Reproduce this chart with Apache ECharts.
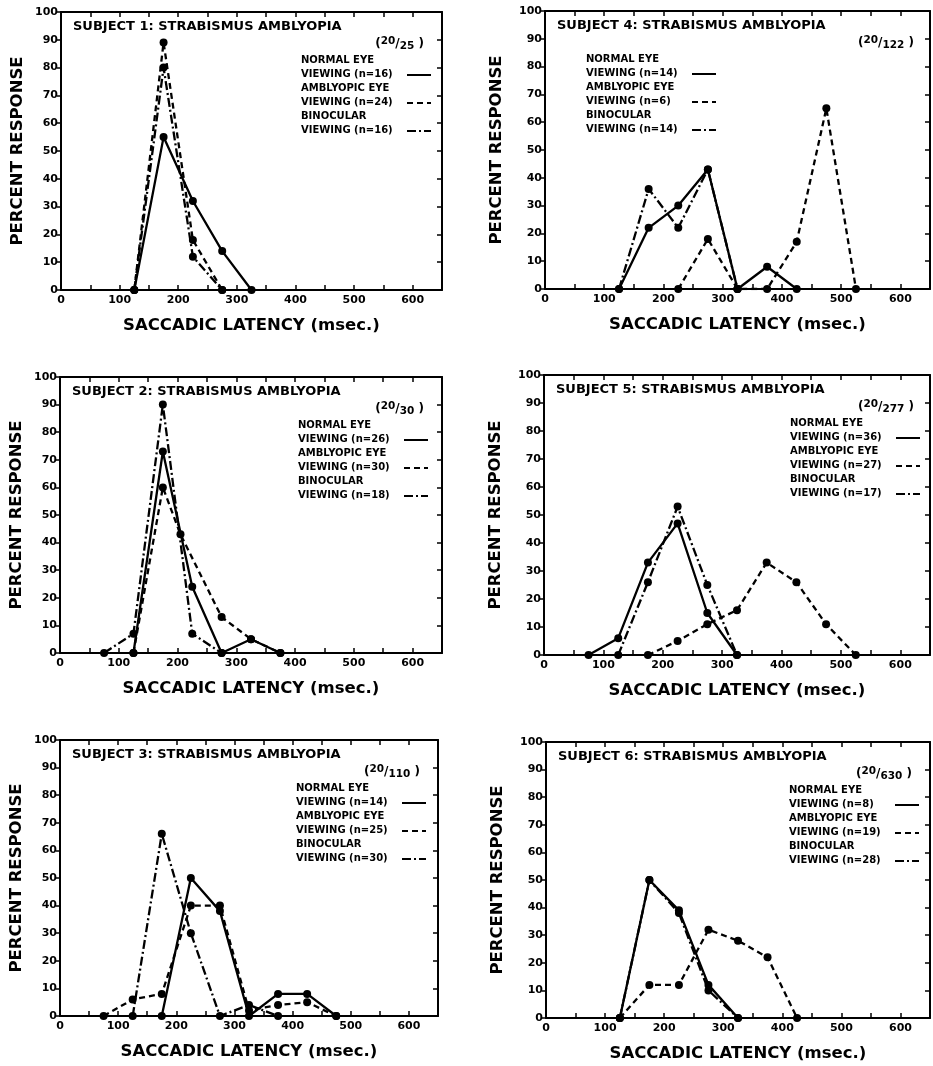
<!DOCTYPE html>
<html>
<head>
<meta charset="utf-8">
<script src="https://cdn.jsdelivr.net/npm/echarts@6/dist/echarts.min.js"></script>
<style>
  html, body { margin: 0; padding: 0; background: #fff; }
  #chart { width: 933px; height: 1066px; }
</style>
</head>
<body>
<div id="chart"></div>
<script>
// [latency bin centre (msec), percent response]
const subjectTitles = [
  'SUBJECT 1: STRABISMUS AMBLYOPIA',
  'SUBJECT 2: STRABISMUS AMBLYOPIA',
  'SUBJECT 3: STRABISMUS AMBLYOPIA',
  'SUBJECT 4: STRABISMUS AMBLYOPIA',
  'SUBJECT 5: STRABISMUS AMBLYOPIA',
  'SUBJECT 6: STRABISMUS AMBLYOPIA',
];
const acuityDenom = ['25', '30', '110', '122', '277', '630'];
const nNormal = [16, 26, 14, 14, 36, 8];
const nAmblyopic = [24, 30, 25, 6, 27, 19];
const nBinocular = [16, 18, 30, 14, 17, 28];

const normal1 = [[125, 0], [175, 55], [225, 32], [275, 14], [325, 0]];
const amblyopic1 = [[125, 0], [175, 89], [225, 18], [275, 0]];
const binocular1 = [[125, 0], [175, 80], [225, 12], [275, 0]];

const normal2 = [[125, 0], [175, 73], [225, 24], [275, 0], [325, 5], [375, 0]];
const amblyopic2 = [[125, 0], [175, 60], [205, 43], [275, 13], [325, 5], [375, 0]];
const binocular2 = [[75, 0], [125, 7], [175, 90], [225, 7], [275, 0]];

const normal3 = [[175, 0], [225, 50], [275, 38], [325, 0], [375, 8], [425, 8], [475, 0]];
const amblyopic3 = [[75, 0], [125, 6], [175, 8], [225, 40], [275, 40], [325, 2], [375, 4], [425, 5], [475, 0]];
const binocular3 = [[125, 0], [175, 66], [225, 30], [275, 0], [325, 4], [375, 0]];

const normal4 = [[125, 0], [175, 22], [225, 30], [275, 43], [325, 0], [375, 8], [425, 0]];
const amblyopic4 = [[225, 0], [275, 18], [325, 0], [375, 0], [425, 17], [475, 65], [525, 0]];
const binocular4 = [[125, 0], [175, 36], [225, 22], [275, 43], [325, 0]];

const normal5 = [[75, 0], [125, 6], [175, 33], [225, 47], [275, 15], [325, 0]];
const amblyopic5 = [[175, 0], [225, 5], [275, 11], [325, 16], [375, 33], [425, 26], [475, 11], [525, 0]];
const binocular5 = [[125, 0], [175, 26], [225, 53], [275, 25], [325, 0]];

const normal6 = [[125, 0], [175, 50], [225, 39], [275, 12], [325, 0]];
const amblyopic6 = [[125, 0], [175, 12], [225, 12], [275, 32], [325, 28], [375, 22], [425, 0]];
const binocular6 = [[125, 0], [175, 50], [225, 38], [275, 10], [325, 0]];

const xTicks = [0, 100, 200, 300, 400, 500, 600];

const normalData = [normal1, normal2, normal3, normal4, normal5, normal6];
const amblyopicData = [amblyopic1, amblyopic2, amblyopic3, amblyopic4, amblyopic5, amblyopic6];
const binocularData = [binocular1, binocular2, binocular3, binocular4, binocular5, binocular6];

// panel layout (subject 1..6)
const layout = [
  { left: 61, top: 12, width: 381, height: 278, legendDx: 240, yNameGap: 35 },
  { left: 60, top: 377, width: 382, height: 276, legendDx: 238, yNameGap: 35 },
  { left: 60, top: 740, width: 378, height: 276, legendDx: 236, yNameGap: 35 },
  { left: 545, top: 11, width: 387, height: 278, legendDx: 41, yNameGap: 40 },
  { left: 544, top: 375, width: 388, height: 280, legendDx: 246, yNameGap: 40 },
  { left: 546, top: 742, width: 384, height: 276, legendDx: 243, yNameGap: 40 },
];

const FONT = 'DejaVu Sans';
const DASH = [6, 4];
const DASH_DOT = [9, 3, 2, 3];
const lineKinds = [
  { label: 'NORMAL EYE', type: 'solid', dash: null },
  { label: 'AMBLYOPIC EYE', type: DASH, dash: DASH },
  { label: 'BINOCULAR', type: DASH_DOT, dash: DASH_DOT },
];

const chart = echarts.init(document.getElementById('chart'), null, { renderer: 'canvas' });

const grid = [], xAxis = [], yAxis = [], series = [], graphic = [];

layout.forEach((g, i) => {
  grid.push({ left: g.left, top: g.top, width: g.width, height: g.height, containLabel: false });

  const axisLine = { show: true, onZero: false, lineStyle: { color: '#000', width: 2 } };
  const tickStyle = { color: '#000', width: 1.5 };

  xAxis.push({
    gridIndex: i, type: 'value', position: 'bottom', min: 0, max: 650, interval: 50,
    axisLine, axisTick: { inside: true, length: 5, lineStyle: tickStyle },
    axisLabel: {
      color: '#000', fontFamily: FONT, fontWeight: 'bold', fontSize: 11, margin: 5,
      formatter: v => (xTicks.includes(v) ? String(v) : ''),
    },
    splitLine: { show: false },
    name: 'SACCADIC LATENCY (msec.)', nameLocation: 'middle', nameGap: 27,
    nameTextStyle: { color: '#000', fontFamily: FONT, fontWeight: 'bold', fontSize: 16.5 },
  });
  xAxis.push({
    gridIndex: i, type: 'value', position: 'top', min: 0, max: 650, interval: 50,
    axisLine, axisTick: { inside: true, length: 5, lineStyle: tickStyle },
    axisLabel: { show: false }, splitLine: { show: false },
  });
  yAxis.push({
    gridIndex: i, type: 'value', position: 'left', min: 0, max: 100, interval: 10,
    axisLine, axisTick: { inside: false, length: 4, lineStyle: tickStyle },
    axisLabel: { color: '#000', fontFamily: FONT, fontWeight: 'bold', fontSize: 11, margin: 3 },
    splitLine: { show: false },
    name: 'PERCENT RESPONSE', nameLocation: 'middle', nameGap: g.yNameGap, nameRotate: 90,
    nameTextStyle: { color: '#000', fontFamily: FONT, fontWeight: 'bold', fontSize: 16.5 },
  });
  yAxis.push({
    gridIndex: i, type: 'value', position: 'right', min: 0, max: 100, interval: 10,
    axisLine, axisTick: { inside: true, length: 5, lineStyle: tickStyle },
    axisLabel: { show: false }, splitLine: { show: false },
  });

  const sets = [normalData[i], amblyopicData[i], binocularData[i]];
  sets.forEach((data, k) => {
    series.push({
      type: 'line', xAxisIndex: i * 2, yAxisIndex: i * 2, data,
      symbol: 'circle', symbolSize: 8, itemStyle: { color: '#000' },
      lineStyle: { color: '#000', width: 2.3, type: lineKinds[k].type },
      animation: false, z: 3 - k,
    });
  });

  // title, acuity and legend text
  graphic.push({
    type: 'text', x: g.left + 12, y: g.top + 8,
    style: { text: subjectTitles[i], font: `bold 13px "${FONT}"`, fill: '#000' },
  });
  graphic.push({
    type: 'text', x: g.left + g.width - 18, y: g.top + 24,
    style: {
      text: `{p|(}{sup|20}{p|/}{sub|${acuityDenom[i]}}{p| )}`,
      align: 'right', fill: '#000',
      rich: {
        p: { font: `bold 12px "${FONT}"`, fill: '#000' },
        sup: { font: `bold 10.5px "${FONT}"`, fill: '#000', padding: [0, 0, 5, 0] },
        sub: { font: `bold 10.5px "${FONT}"`, fill: '#000', padding: [5, 0, 0, 0] },
      },
    },
  });

  const counts = [nNormal[i], nAmblyopic[i], nBinocular[i]];
  const lx = g.left + g.legendDx;
  lineKinds.forEach((kind, k) => {
    const ly = g.top + 43 + k * 28;
    graphic.push({
      type: 'text', x: lx, y: ly,
      style: { text: kind.label, font: `bold 10px "${FONT}"`, fill: '#000' },
    });
    graphic.push({
      type: 'text', x: lx, y: ly + 14,
      style: { text: `VIEWING (n=${counts[k]})`, font: `bold 10px "${FONT}"`, fill: '#000' },
    });
    const lineStart = lx + 106;
    graphic.push({
      type: 'line',
      shape: { x1: lineStart, y1: ly + 20, x2: lineStart + 24, y2: ly + 20 },
      style: { stroke: '#000', lineWidth: 2, lineDash: kind.dash },
    });
  });
});

chart.setOption({
  animation: false,
  backgroundColor: '#fff',
  grid, xAxis, yAxis, series, graphic,
});
</script>
</body>
</html>
